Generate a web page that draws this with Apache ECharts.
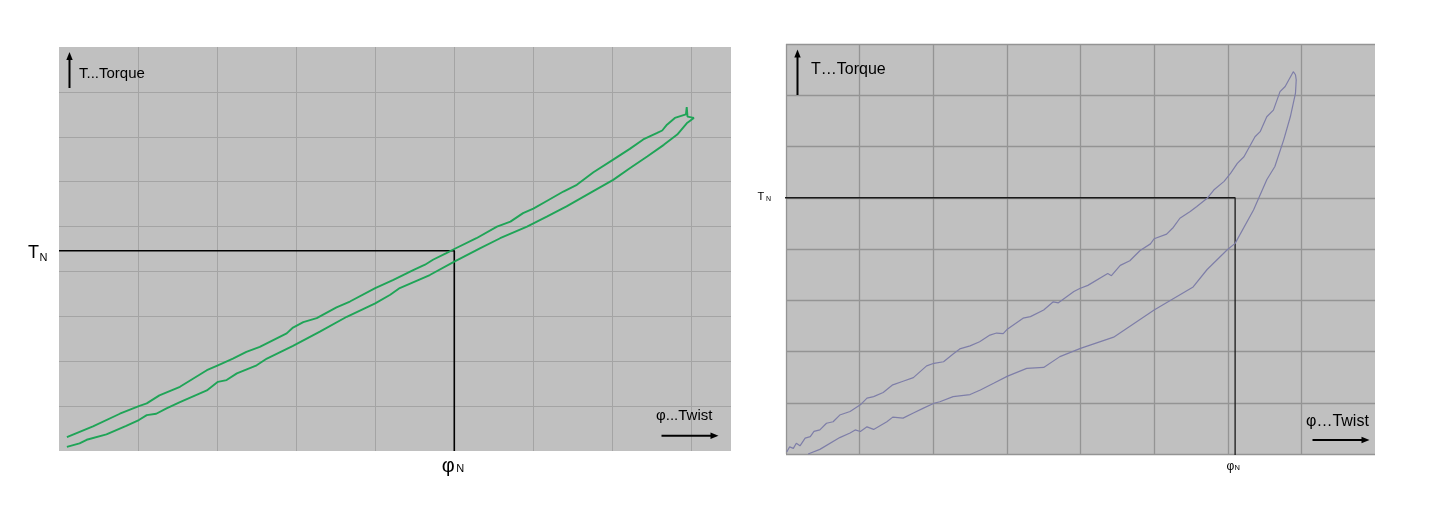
<!DOCTYPE html>
<html>
<head>
<meta charset="utf-8">
<title>Torque / Twist</title>
<script src="https://cdn.jsdelivr.net/npm/echarts@6/dist/echarts.min.js"></script>
<style>
  html, body { margin: 0; padding: 0; background: #fff; }
  #chart { width: 1438px; height: 508px; }
</style>
</head>
<body>
<div id="chart"></div>
<script>
// grid cells are the units: left panel 8.5 x 9 cells, right panel 8 x 8 cells

// left panel, lower branch (increasing twist)
const leftLowerTwist = [0.10, 0.26, 0.35, 0.60, 0.85, 1.01, 1.11, 1.23, 1.36, 1.53, 1.87, 2.01, 2.12, 2.25, 2.50, 2.63, 2.96, 3.30, 3.64, 4.00, 4.19, 4.31, 4.69, 5.00, 5.33, 5.58, 5.92, 6.17, 6.42, 6.72, 7.01, 7.22, 7.44, 7.65, 7.82, 7.94];
const leftLowerTorque = [0.09, 0.17, 0.25, 0.37, 0.56, 0.69, 0.80, 0.83, 0.95, 1.09, 1.35, 1.54, 1.58, 1.73, 1.91, 2.06, 2.34, 2.66, 2.99, 3.29, 3.48, 3.63, 3.92, 4.22, 4.52, 4.74, 5.00, 5.22, 5.45, 5.75, 6.04, 6.30, 6.56, 6.82, 7.05, 7.30];

// left panel, little spike at the turning point
const leftTipTwist = [8.03, 7.95, 7.94, 7.93];
const leftTipTorque = [7.42, 7.45, 7.66, 7.50];

// left panel, upper branch (listed with increasing twist)
const leftUpperTwist = [0.10, 0.43, 0.77, 1.01, 1.11, 1.27, 1.53, 1.87, 2.01, 2.20, 2.37, 2.54, 2.88, 2.96, 3.09, 3.26, 3.51, 3.68, 4.00, 4.23, 4.48, 4.63, 4.73, 4.90, 5.00, 5.28, 5.54, 5.71, 5.87, 6.00, 6.17, 6.38, 6.55, 6.76, 7.01, 7.22, 7.39, 7.56, 7.63, 7.69, 7.79, 7.92];
const leftUpperTorque = [0.31, 0.55, 0.83, 1.00, 1.06, 1.24, 1.43, 1.80, 1.91, 2.06, 2.21, 2.32, 2.62, 2.75, 2.87, 2.96, 3.20, 3.33, 3.63, 3.81, 4.03, 4.15, 4.26, 4.41, 4.50, 4.74, 5.00, 5.11, 5.30, 5.40, 5.57, 5.78, 5.93, 6.21, 6.49, 6.73, 6.94, 7.08, 7.14, 7.27, 7.42, 7.52];

// right panel, loading branch
const rightUpTwist = [0.01, 0.05, 0.10, 0.14, 0.19, 0.26, 0.33, 0.38, 0.46, 0.55, 0.64, 0.73, 0.87, 1.01, 1.10, 1.19, 1.32, 1.45, 1.59, 1.73, 1.91, 2.01, 2.14, 2.27, 2.36, 2.50, 2.63, 2.77, 2.86, 2.95, 3.01, 3.22, 3.32, 3.50, 3.63, 3.70, 3.91, 3.99, 4.10, 4.37, 4.42, 4.54, 4.67, 4.81, 4.95, 5.00, 5.17, 5.26, 5.35, 5.49, 5.58, 5.72, 5.81, 5.95, 6.04, 6.13, 6.22, 6.37, 6.44, 6.53, 6.62, 6.71, 6.78, 6.89];
const rightUpTorque = [0.04, 0.14, 0.11, 0.21, 0.16, 0.31, 0.34, 0.44, 0.47, 0.60, 0.63, 0.76, 0.83, 0.96, 1.09, 1.12, 1.20, 1.35, 1.42, 1.49, 1.72, 1.77, 1.80, 1.95, 2.05, 2.11, 2.19, 2.32, 2.36, 2.35, 2.44, 2.65, 2.68, 2.81, 2.97, 2.95, 3.17, 3.23, 3.29, 3.52, 3.48, 3.68, 3.77, 3.97, 4.10, 4.20, 4.29, 4.42, 4.60, 4.73, 4.83, 4.99, 5.15, 5.32, 5.48, 5.67, 5.80, 6.19, 6.29, 6.58, 6.71, 7.07, 7.17, 7.46];

// right panel, unloading branch (from the peak back down)
const rightDownTwist = [6.92, 6.93, 6.92, 6.85, 6.76, 6.64, 6.53, 6.35, 6.10, 5.99, 5.72, 5.53, 5.00, 4.45, 4.00, 3.72, 3.50, 3.27, 3.01, 2.82, 2.64, 2.50, 2.27, 2.09, 2.01, 1.86, 1.73, 1.59, 1.45, 1.37, 1.19, 1.10, 1.01, 0.94, 0.87, 0.73, 0.46, 0.30];
const rightDownTorque = [7.40, 7.30, 7.04, 6.58, 6.13, 5.61, 5.35, 4.76, 4.11, 3.98, 3.60, 3.26, 2.81, 2.28, 2.06, 1.90, 1.69, 1.67, 1.52, 1.38, 1.25, 1.16, 1.12, 1.02, 0.99, 0.89, 0.80, 0.70, 0.72, 0.63, 0.48, 0.53, 0.44, 0.47, 0.41, 0.32, 0.09, 0.00];

// rated point [phi_N, T_N]
const leftRated = [5.0, 4.46];
const rightRated = [6.1, 5.0];

const FONT = '"Liberation Sans", Arial, Helvetica, sans-serif';

const zip = (xs, ys) => xs.map((x, i) => [x, ys[i]]);

const leftLoop = [
  ...zip(leftLowerTwist, leftLowerTorque),
  ...zip(leftTipTwist, leftTipTorque),
  ...zip(leftUpperTwist, leftUpperTorque).reverse(),
];
const rightLoop = [
  ...zip(rightUpTwist, rightUpTorque),
  ...zip(rightDownTwist, rightDownTorque),
];

function bareAxis(gridIndex, max, gridColor, gridWidth, minLine, maxLine) {
  return {
    type: 'value',
    gridIndex,
    min: 0,
    max,
    interval: 1,
    axisLine: { show: false },
    axisTick: { show: false },
    axisLabel: { show: false },
    splitLine: {
      show: true,
      showMinLine: minLine,
      showMaxLine: maxLine,
      lineStyle: { color: gridColor, width: gridWidth },
    },
  };
}

function text(x, y, str, size, align) {
  return {
    type: 'text',
    x,
    y,
    silent: true,
    style: {
      text: str,
      fill: '#000',
      fontSize: size,
      fontFamily: FONT,
      align: align || 'left',
      verticalAlign: 'middle',
    },
  };
}

function arrowUp(x, yTop, yBottom) {
  return [
    { type: 'line', silent: true, shape: { x1: x, y1: yBottom, x2: x, y2: yTop + 5 }, style: { stroke: '#000', lineWidth: 2 } },
    { type: 'polygon', silent: true, shape: { points: [[x, yTop], [x - 3.2, yTop + 8], [x + 3.2, yTop + 8]] }, style: { fill: '#000' } },
  ];
}

function arrowRight(y, xLeft, xRight) {
  return [
    { type: 'line', silent: true, shape: { x1: xLeft, y1: y, x2: xRight - 5, y2: y }, style: { stroke: '#000', lineWidth: 2 } },
    { type: 'polygon', silent: true, shape: { points: [[xRight, y], [xRight - 8, y - 3.2], [xRight - 8, y + 3.2]] }, style: { fill: '#000' } },
  ];
}

const chart = echarts.init(document.getElementById('chart'));

chart.setOption({
  animation: false,
  backgroundColor: '#fff',
  grid: [
    { left: 59, top: 47, width: 672, height: 404, show: true, backgroundColor: '#c0c0c0', borderWidth: 0 },
    { left: 786, top: 44, width: 589, height: 410, show: true, backgroundColor: '#c0c0c0', borderWidth: 0 },
  ],
  xAxis: [
    bareAxis(0, 8.5, '#a4a4a4', 1, false, false),
    bareAxis(1, 8, '#949494', 1.3, true, false),
  ],
  yAxis: [
    bareAxis(0, 9, '#a4a4a4', 1, false, false),
    bareAxis(1, 8, '#949494', 1.3, true, true),
  ],
  series: [
    {
      type: 'line',
      xAxisIndex: 0,
      yAxisIndex: 0,
      data: [[0, leftRated[1]], leftRated, [leftRated[0], 0]],
      symbol: 'none',
      silent: true,
      clip: false,
      lineStyle: { color: '#000', width: 1.6 },
    },
    {
      type: 'line',
      xAxisIndex: 0,
      yAxisIndex: 0,
      data: leftLoop,
      symbol: 'none',
      silent: true,
      clip: false,
      lineStyle: { color: '#1fa457', width: 1.9 },
    },
    {
      type: 'line',
      xAxisIndex: 1,
      yAxisIndex: 1,
      data: [[-0.13, rightRated[1]], rightRated, [rightRated[0], -0.02]],
      symbol: 'none',
      silent: true,
      clip: false,
      lineStyle: { color: '#1a1a1a', width: 1.3 },
    },
    {
      type: 'line',
      xAxisIndex: 1,
      yAxisIndex: 1,
      data: rightLoop,
      symbol: 'none',
      silent: true,
      clip: false,
      lineStyle: { color: '#7e7ea8', width: 1.2 },
    },
  ],
});

// annotation texts placed next to the rated lines
const tnL = chart.convertToPixel({ gridIndex: 0 }, [0, leftRated[1]]);
const phL = chart.convertToPixel({ gridIndex: 0 }, [leftRated[0], 0]);
const tnR = chart.convertToPixel({ gridIndex: 1 }, [0, rightRated[1]]);
const phR = chart.convertToPixel({ gridIndex: 1 }, [rightRated[0], 0]);

chart.setOption({
  graphic: [
    ...arrowUp(69.5, 52, 88),
    text(79, 74, 'T...Torque', 15),
    text(656, 416, 'φ...Twist', 15),
    ...arrowRight(435.7, 661.5, 718.5),
    text(tnL[0] - 31, tnL[1] + 2.5, 'T', 18),
    text(tnL[0] - 19.5, tnL[1] + 7.5, 'N', 11),
    text(phL[0] - 12.5, phL[1] + 15, 'φ', 20),
    text(phL[0] + 2, phL[1] + 18, 'N', 11),

    ...arrowUp(797.5, 49.5, 95),
    text(811, 70, 'T…Torque', 16),
    text(1306, 422, 'φ…Twist', 16),
    ...arrowRight(440, 1312.5, 1369.5),
    text(tnR[0] - 28.5, tnR[1] - 1, 'T', 11),
    text(tnR[0] - 20, tnR[1] + 1, 'N', 7),
    text(phR[0] - 8.5, phR[1] + 13, 'φ', 12),
    text(phR[0] - 0.5, phR[1] + 14, 'N', 7.5),
  ],
});
</script>
</body>
</html>
